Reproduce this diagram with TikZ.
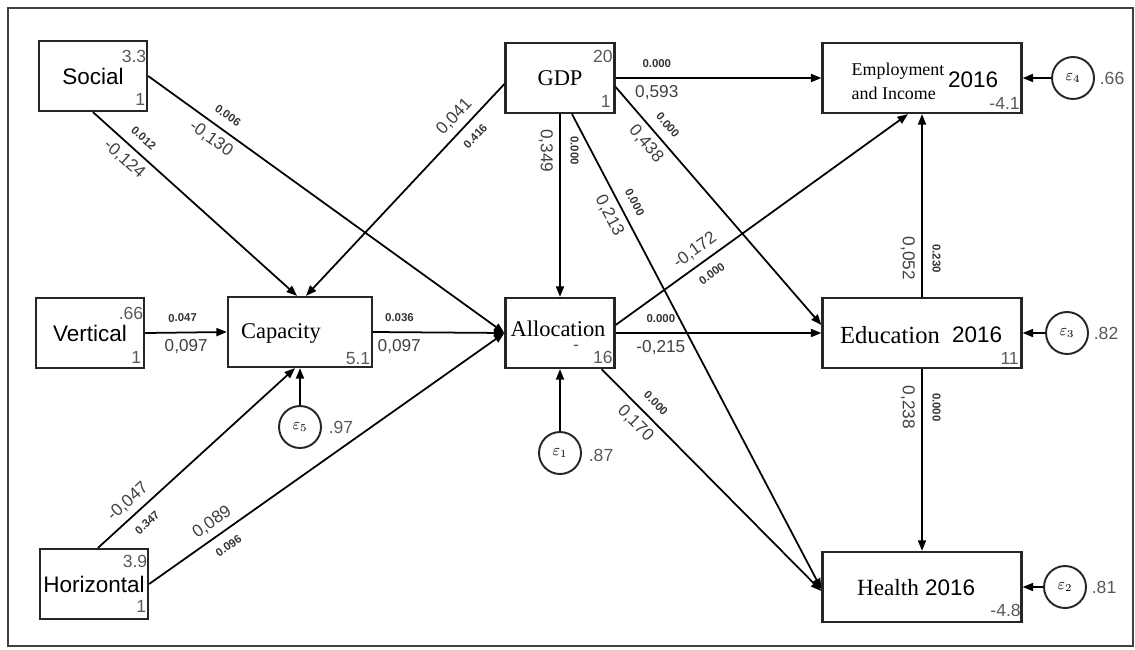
\documentclass[tikz,border=0pt]{standalone}
\usepackage{fontspec}
\setmainfont{Liberation Serif}
\setsansfont{Liberation Sans}
\usetikzlibrary{arrows.meta}

\tikzset{
  obs/.style={draw=black!85, line width=1.3pt, minimum height=1.4cm, inner sep=0pt},
  err/.style={draw=black!85, circle, line width=1.1pt, minimum size=0.84cm, inner sep=0pt, font=\fontsize{9}{9}\selectfont},
  nm/.style={font=\fontsize{12.8}{13}\sffamily},
  srf/.style={font=\fontsize{12.8}{13}\selectfont},
  num/.style={font=\fontsize{10}{10}\sffamily, text=black!65, inner sep=0pt},
  coef/.style={font=\fontsize{9.8}{10}\sffamily, text=black!75, inner sep=0pt, sloped, pos=.2},
  pval/.style={font=\fontsize{6.5}{7}\sffamily\bfseries, text=black!80, inner sep=0pt, sloped, pos=.2},
}

\begin{document}
\begin{tikzpicture}[x=0.02cm, y=-0.02cm, line width=1pt, >={Triangle[length=6pt,width=4.6pt]}]
\useasboundingbox (0,0) rectangle (1135,649);
\draw[black!75, line width=1.2pt] (8,8) rectangle (1133,646);

% exogenous variables
\node[obs, nm, minimum width=2.16cm] (soc) at (93,76) {Social};
\node[num, anchor=east] (soc-m) at ([shift={(-1,17)}]soc.north east) {3.3};
\node[num, anchor=east] (soc-v) at ([shift={(-2,-13)}]soc.south east) {1};

\node[obs, nm, minimum width=2.16cm] (ver) at (90,333) {Vertical};
\node[num, anchor=east] (ver-m) at ([shift={(-1,17)}]ver.north east) {.66};
\node[num, anchor=east] (ver-v) at ([shift={(-3,-12)}]ver.south east) {1};

\node[obs, nm, minimum width=2.16cm] (hor) at (94,584) {Horizontal};
\node[num, anchor=east] (hor-m) at ([shift={(-1,14)}]hor.north east) {3.9};
\node[num, anchor=east] (hor-v) at ([shift={(-2,-14)}]hor.south east) {1};

\node[obs, srf, minimum width=2.18cm] (gdp) at (560,78) {GDP};
\node[num, anchor=east] (gdp-m) at ([shift={(-2,15)}]gdp.north east) {20};
\node[num, anchor=east] (gdp-v) at ([shift={(-4,-13)}]gdp.south east) {1};

% endogenous variables
\node[obs, minimum width=2.88cm] (cap) at (300,332) {};
\node[srf] (cap-t) at (281,333) {Capacity};
\node[num, anchor=east] (cap-m) at ([shift={(-2,-10)}]cap.south east) {5.1};

\node[obs, minimum width=2.18cm] (alc) at (560,333) {};
\node[srf] (alc-t) at (558,329) {Allocation};
\node[num] (alc-d) at (576,348) {-};
\node[num, anchor=east] (alc-m) at ([shift={(-2,-12)}]alc.south east) {16};

\node[obs, minimum width=3.98cm] (emp) at (922,78) {};
\node[srf, font=\fontsize{10.2}{13.6}\selectfont, align=left, anchor=west] (emp-t) at (845,81) {Employment\\and Income};
\node[nm] (emp-y) at (973,80) {2016};
\node[num, anchor=east] (emp-m) at ([shift={(-2,-11)}]emp.south east) {-4.1};

\node[obs, minimum width=3.98cm] (edu) at (922,333) {};
\node[srf, font=\fontsize{14}{14}\selectfont] (edu-t) at (890,335) {Education};
\node[nm] (edu-y) at (977,335) {2016};
\node[num, anchor=east] (edu-m) at ([shift={(-3,-11)}]edu.south east) {11};

\node[obs, minimum width=3.98cm] (hea) at (922,587) {};
\node[srf, font=\fontsize{13.2}{14}\selectfont] (hea-t) at (888,588) {Health};
\node[nm] (hea-y) at (950,588) {2016};
\node[num, anchor=east] (hea-m) at ([shift={(-1,-13)}]hea.south east) {-4.8};

% error terms
\node[err] (e5) at (300,427) {$\varepsilon_5$};
\node[num, anchor=west] (e5-v) at ([shift={(6,0)}]e5.east) {.97};
\node[err] (e1) at (560,453) {$\varepsilon_1$};
\node[num, anchor=west] (e1-v) at ([shift={(6,2)}]e1.east) {.87};
\node[err] (e4) at (1073,78) {$\varepsilon_4$};
\node[num, anchor=west] (e4-v) at ([shift={(4,0)}]e4.east) {.66};
\node[err] (e3) at (1067,333) {$\varepsilon_3$};
\node[num, anchor=west] (e3-v) at ([shift={(4,0)}]e3.east) {.82};
\node[err] (e2) at (1065,587) {$\varepsilon_2$};
\node[num, anchor=west] (e2-v) at ([shift={(4,0)}]e2.east) {.81};

% paths
\draw[->] (soc.south) -- ([shift={(-3,0)}]cap.north)
  node[pval, above=5.5pt] (p-soc-cap) {0.012}
  node[coef, below=3.5pt] (c-soc-cap) {-0,124};
\draw[->] (soc.east) -- (alc.west)
  node[pval, above=5.5pt] (p-soc-alc) {0.006}
  node[coef, below=3.5pt] (c-soc-alc) {-0,130};
\draw[->] (ver.east) -- (cap.west)
  node[pval, above=5.5pt, pos=.46] (p-ver-cap) {0.047}
  node[coef, below=3.5pt, pos=.5] (c-ver-cap) {0,097};
\draw[->] ([shift={(4,0)}]hor.north) -- ([shift={(-5,0)}]cap.south)
  node[coef, above=3.5pt] (c-hor-cap) {-0,047}
  node[pval, below=5.5pt] (p-hor-cap) {0.347};
\draw[->] (hor.east) -- (alc.west)
  node[coef, above=3.5pt] (c-hor-alc) {0,089}
  node[pval, below=5.5pt] (p-hor-alc) {0.096};
\draw[->] ([shift={(0,6)}]gdp.west) -- ([shift={(6,0)}]cap.north)
  node[coef, above=3.5pt] (c-gdp-cap) {0,041}
  node[pval, below=5.5pt] (p-gdp-cap) {0.416};
\draw[->] (gdp.south) -- (alc.north)
  node[pval, above=5.5pt] (p-gdp-alc) {0.000}
  node[coef, below=3.5pt] (c-gdp-alc) {0,349};
\draw[->] (gdp.east) -- (emp.west)
  node[pval, above=5.5pt] (p-gdp-emp) {0.000}
  node[coef, below=3.5pt] (c-gdp-emp) {0,593};
\draw[->] ([shift={(0,9)}]gdp.east) -- ([shift={(0,-8)}]edu.west)
  node[pval, above=5.5pt] (p-gdp-edu) {0.000}
  node[coef, below=3.5pt] (c-gdp-edu) {0,438};
\draw[->] ([shift={(12,0)}]gdp.south) -- ([shift={(0,2)}]hea.west)
  node[pval, above=5.5pt] (p-gdp-hea) {0.000}
  node[coef, below=3.5pt] (c-gdp-hea) {0,213};
\draw[->] (cap.east) -- (alc.west)
  node[pval, above=5.5pt] (p-cap-alc) {0.036}
  node[coef, below=3.5pt] (c-cap-alc) {0,097};
\draw[->] ([shift={(0,-8)}]alc.east) -- ([shift={(-14,0)}]emp.south)
  node[coef, above=3.5pt, pos=.3] (c-alc-emp) {-0,172}
  node[pval, below=5.5pt, pos=.3] (p-alc-emp) {0.000};
\draw[->] (alc.east) -- (edu.west)
  node[pval, above=5.5pt, pos=.22] (p-alc-edu) {0.000}
  node[coef, below=3.5pt, pos=.22] (c-alc-edu) {-0,215};
\draw[->] ([shift={(-14,0)}]alc.south east) -- ([shift={(0,4)}]hea.west)
  node[pval, above=5.5pt] (p-alc-hea) {0.000}
  node[coef, below=3.5pt] (c-alc-hea) {0,170};
\draw[<-] (emp.south) -- (edu.north)
  node[pval, above=5.5pt, pos=.79] (p-edu-emp) {0.230}
  node[coef, below=3.5pt, pos=.79] (c-edu-emp) {0,052};
\draw[->] (edu.south) -- (hea.north)
  node[pval, above=5.5pt, pos=.21] (p-edu-hea) {0.000}
  node[coef, below=3.5pt, pos=.21] (c-edu-hea) {0,238};

% residuals
\draw[->] (e5) -- (cap.south);
\draw[->] (e1) -- (alc.south);
\draw[->] (e4) -- (emp.east);
\draw[->] (e3) -- (edu.east);
\draw[->] (e2) -- (hea.east);
\end{tikzpicture}
\end{document}
